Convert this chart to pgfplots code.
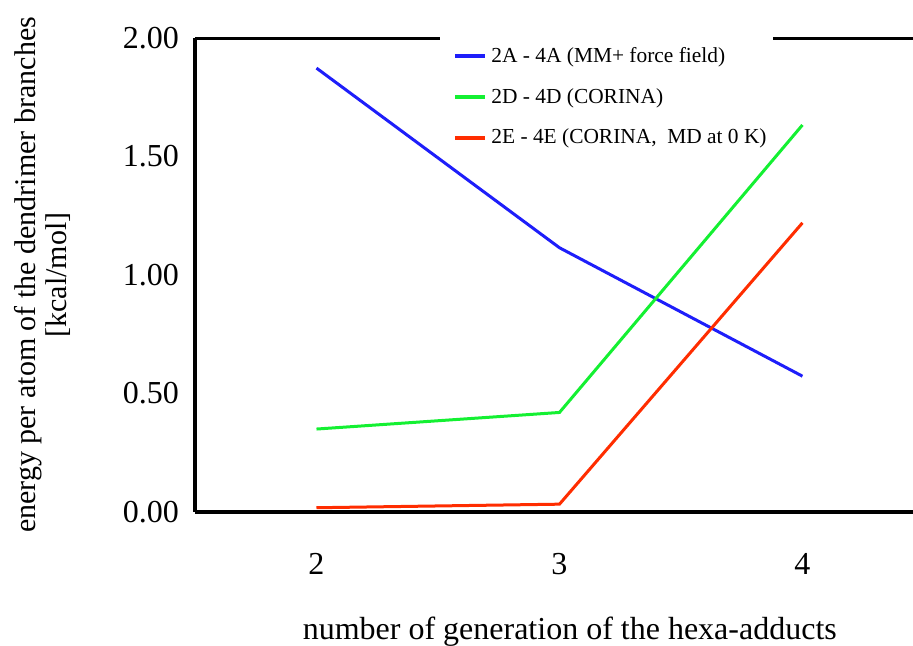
\documentclass[border=0pt]{standalone}
\usepackage{pgfplots}
\pgfplotsset{compat=1.18}
\usepackage{fontspec}
\setmainfont{Liberation Serif}
\usetikzlibrary{calc}

\definecolor{lnblue}{RGB}{30,30,250}
\definecolor{lngreen}{RGB}{20,240,50}
\definecolor{lnred}{RGB}{255,45,0}

\begin{document}
\begin{tikzpicture}
  \begin{axis}[
      scale only axis,
      width=359pt, height=237pt,
      xmin=1.5, xmax=4.455,
      ymin=0, ymax=2,
      enlargelimits=false,
      axis lines*=left,
      axis line style={line width=2.2pt,-},
      major tick length=0pt,
      xtick={2,3,4},
      ytick={0,0.5,1,1.5,2},
      yticklabel style={/pgf/number format/fixed,/pgf/number format/fixed zerofill,
                        /pgf/number format/precision=2,xshift=-4.5pt},
      /pgf/number format/assume math mode=true,
      tick label style={font=\fontsize{16}{18}\selectfont},
      xticklabel style={yshift=-17pt},
      xlabel={number of generation of the hexa-adducts},
      xlabel style={at={(axis description cs:0.522,0)},anchor=north,yshift=-49pt,
                    font=\fontsize{16}{18}\selectfont},
      ylabel={energy per atom of the dendrimer branches\\{}{[kcal/mol]}},
      ylabel style={at={(axis description cs:-0.212,0.5)},anchor=center,align=center,
                    font=\fontsize{15}{15.5}\selectfont},
      legend style={at={(axis description cs:0.351,0.99)},anchor=north west,
                    draw=none,fill=none,font=\fontsize{10.7}{12}\selectfont,
                    row sep=7.5pt,inner xsep=3pt,inner ysep=0pt},
      legend cell align=left,
      legend image code/.code={\draw[#1,line width=2pt] (0pt,0pt) -- (15pt,0pt);},
      every axis plot/.append style={line width=1.5pt,mark=none},
    ]
    % top frame line, broken where the legend sits
    \draw[line width=2.2pt] (rel axis cs:-0.01,1) -- (rel axis cs:0.341,1);
    \draw[line width=2.2pt] (rel axis cs:0.805,1) -- (rel axis cs:1,1);

    \addplot[lnblue] coordinates {(2,1.873) (3,1.115) (4,0.573)};
    \addlegendentry{2A - 4A (MM+ force field)}
    \addplot[lngreen] coordinates {(2,0.350) (3,0.420) (4,1.633)};
    \addlegendentry{2D - 4D (CORINA)}
    \addplot[lnred] coordinates {(2,0.018) (3,0.033) (4,1.220)};
    \addlegendentry{2E - 4E (CORINA,\ \ MD at 0 K)}
  \end{axis}
  \pgfresetboundingbox
  \path ($(current axis.south west)+(-97.5pt,-67pt)$) rectangle ($(current axis.north east)+(0pt,19pt)$);
\end{tikzpicture}
\end{document}
